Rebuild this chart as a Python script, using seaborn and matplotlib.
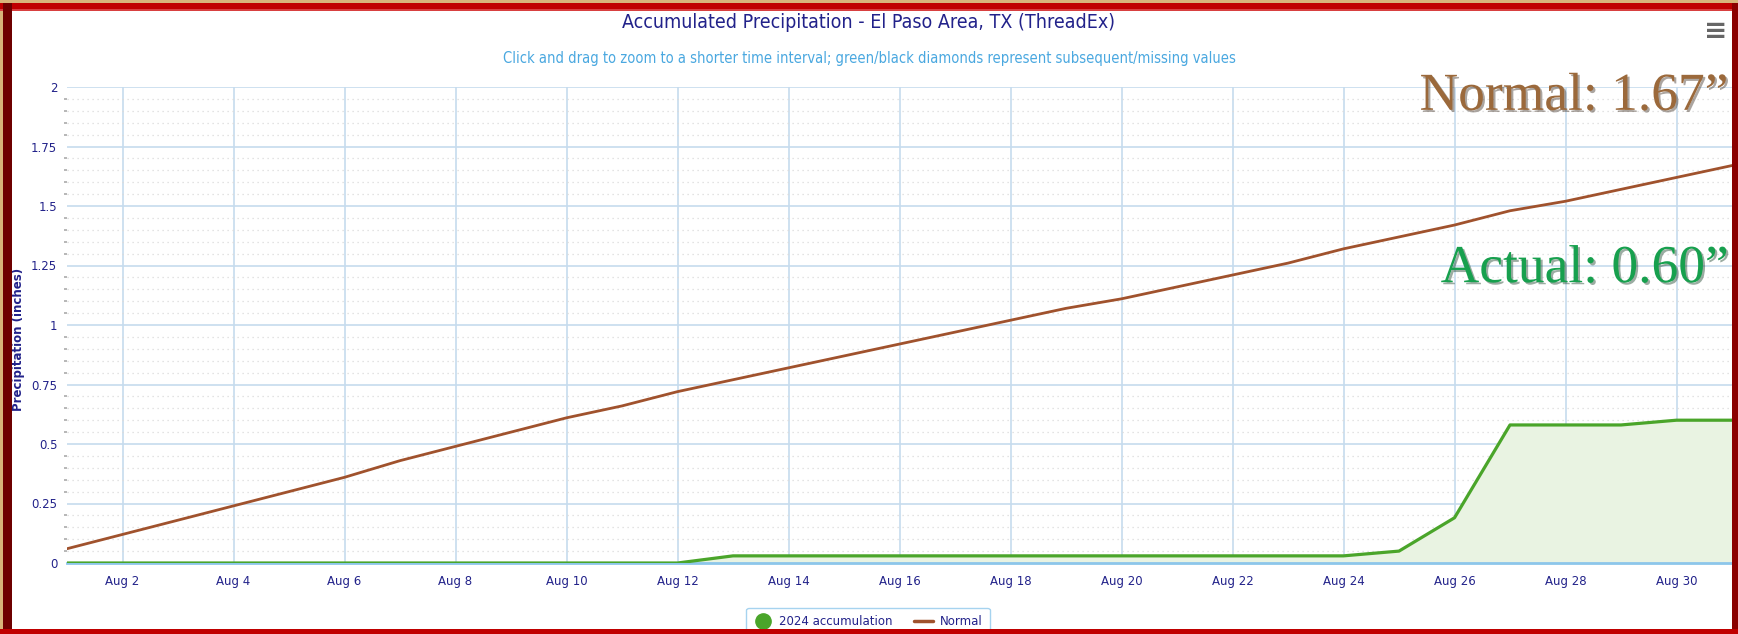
import numpy as np
import pandas as pd
import matplotlib
matplotlib.use("Agg")
import matplotlib.pyplot as plt
import matplotlib.patheffects as pe
from matplotlib.patches import Rectangle
from matplotlib.lines import Line2D
from matplotlib.ticker import MultipleLocator, FuncFormatter
import seaborn as sns

# data (August, day of month)
days = list(range(1, 32))
normal = [0.06, 0.12, 0.18, 0.24, 0.30, 0.36, 0.43, 0.49, 0.55, 0.61,
          0.66, 0.72, 0.77, 0.82, 0.87, 0.92, 0.97, 1.02, 1.07, 1.11,
          1.16, 1.21, 1.26, 1.32, 1.37, 1.42, 1.48, 1.52, 1.57, 1.62, 1.67]
actual = [0, 0, 0, 0, 0, 0, 0, 0, 0, 0,
          0, 0, 0.03, 0.03, 0.03, 0.03, 0.03, 0.03, 0.03, 0.03,
          0.03, 0.03, 0.03, 0.03, 0.05, 0.19, 0.58, 0.58, 0.58, 0.60, 0.60]
tick_days = list(range(2, 31, 2))
tick_labels = [f"Aug {d}" for d in tick_days]

df = pd.DataFrame({"day": days, "Normal": normal, "2024 accumulation": actual})

navy = "#22228a"
grid_blue = "#c6dcee"
brown = "#a0522d"
green = "#4aa52a"

sns.set_style("white")
plt.rcParams["font.family"] = ["DejaVu Sans"]

fig = plt.figure(figsize=(17.38, 6.34), dpi=100)
fig.patch.set_facecolor("white")
ax = fig.add_axes([67 / 1738, 1 - 563 / 634, 1665 / 1738, 476 / 634])

# green area + lines
ax.fill_between(df["day"], df["2024 accumulation"], 0, color="#e9f3e2", zorder=1)
sns.lineplot(data=df, x="day", y="Normal", ax=ax, color=brown, lw=2, zorder=3)
sns.lineplot(data=df, x="day", y="2024 accumulation", ax=ax, color=green, lw=2.3, zorder=4)

ax.set_xlim(1, 31)
ax.set_ylim(0, 2)
ax.set_xticks(tick_days)
ax.set_xticklabels(tick_labels)
ax.yaxis.set_major_locator(MultipleLocator(0.25))
ax.yaxis.set_minor_locator(MultipleLocator(0.05))
ax.yaxis.set_major_formatter(FuncFormatter(lambda v, p: f"{v:g}"))

ax.grid(True, which="major", color=grid_blue, lw=1.2, zorder=0)
ax.grid(True, which="minor", axis="y", color="#dadada", lw=0.9, ls=(0, (1, 3)), zorder=0)
ax.set_axisbelow(True)

for s in ["left", "right", "top"]:
    ax.spines[s].set_visible(False)
ax.spines["bottom"].set_color("#8cc6ea")
ax.spines["bottom"].set_linewidth(2)

ax.tick_params(axis="x", which="major", colors=grid_blue, length=7, width=1.2,
               labelcolor=navy, labelsize=8.5, pad=2)
ax.tick_params(axis="y", which="major", colors=grid_blue, length=3, width=1.2,
               labelcolor=navy, labelsize=8.5, pad=4)
ax.tick_params(axis="y", which="minor", colors="#aaaaaa", length=2, width=1.2, left=True)
ax.set_xlabel("")
ax.set_ylabel("Precipitation (inches)", color=navy, fontsize=8.5, fontweight="bold")
ax.yaxis.set_label_coords(-0.0255, 0.47)

# titles
fig.text(0.5, 1 - 22 / 634, "Accumulated Precipitation - El Paso Area, TX (ThreadEx)",
         ha="center", va="center", color=navy, fontsize=14, fontstretch="condensed",
         family=["Liberation Sans Narrow", "DejaVu Sans"])
fig.text(0.5, 1 - 59 / 634,
         "Click and drag to zoom to a shorter time interval; green/black diamonds represent subsequent/missing values",
         ha="center", va="center", color="#4aa8e0", fontsize=10.5, fontstretch="condensed",
         family=["Liberation Sans Narrow", "DejaVu Sans"])
fig.text(1716 / 1738, 1 - 31 / 634, "≡", ha="center", va="center", color="#666666",
         fontsize=20, fontweight="bold")

# big labels
shadow = [pe.SimplePatchShadow(offset=(1.5, -1.5), alpha=0.4), pe.Normal()]
ax.text(0.998, 0.952, "Normal: 1.67\u201d", transform=ax.transAxes, ha="right", va="baseline",
        color="#9b693b", fontsize=38.5, family=["Liberation Serif", "DejaVu Serif"],
        path_effects=shadow, zorder=6)
ax.text(0.998, 0.590, "Actual: 0.60\u201d", transform=ax.transAxes, ha="right", va="baseline",
        color="#17a04e", fontsize=38.5, family=["Liberation Serif", "DejaVu Serif"],
        path_effects=shadow, zorder=6)

# legend
handles = [Line2D([], [], marker="o", ls="none", color=green, markersize=11),
           Line2D([], [], color=brown, lw=2.5)]
leg = fig.legend(handles, ["2024 accumulation", "Normal"], loc="upper center",
                 bbox_to_anchor=(868 / 1738, 1 - 602 / 634), ncol=2, frameon=True,
                 fancybox=True, edgecolor="#90c8ec", fontsize=8.5, handlelength=1.6,
                 columnspacing=1.8, handletextpad=0.6, borderpad=0.6)
for t in leg.get_texts():
    t.set_color(navy)
leg.set_zorder(5)

# red frame round the chart
W, H = 1738, 634
frame = [
    (0, 0, W, 3, "#d8b47a"),
    (0, 0, 3, H, "#d8b47a"),
    (0, 3, W, 8, "#c00000"),
    (0, 9, W, 2, "#d84040"),
    (3, 3, 9, H, "#6e0000"),
    (1732, 3, 6, H, "#8b0000"),
    (0, 629, W, 5, "#c00000"),
]
for x, y, w, h, c in frame:
    fig.add_artist(Rectangle((x / W, 1 - (y + h) / H), w / W, h / H,
                             transform=fig.transFigure, color=c, zorder=20, lw=0))

fig.savefig("out.png", dpi=100, facecolor=fig.get_facecolor())
